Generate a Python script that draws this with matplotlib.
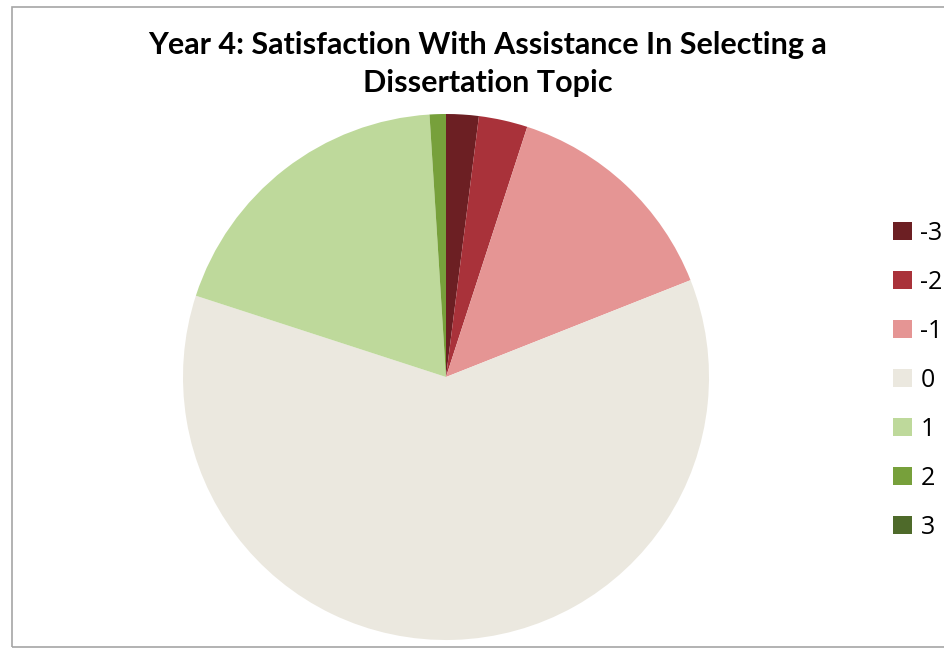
import matplotlib
matplotlib.use("Agg")
import matplotlib.pyplot as plt
from matplotlib.patches import Rectangle

# survey responses, -3 (very dissatisfied) .. 3 (very satisfied)
labels = ["-3", "-2", "-1", "0", "1", "2", "3"]
counts = [2, 3, 14, 61, 19, 1, 0]
colors = ["#6c1f23", "#a9323a", "#e59594", "#ebe8df", "#bed99b", "#77a03b", "#4e6a2a"]

title = "Year 4: Satisfaction With Assistance In Selecting a\nDissertation Topic"

fig = plt.figure(figsize=(9.45, 6.51), dpi=100)
fig.patch.set_facecolor("white")

# chart-area frame
fig.patches.append(Rectangle((12 / 945, 4 / 651), 1.2, 1 - 11 / 651,
                             transform=fig.transFigure, fill=False,
                             edgecolor="#a6a6a6", linewidth=1.2))

ax = fig.add_axes([183 / 945, 11 / 651, 526 / 945, 526 / 651])
wedges, _ = ax.pie(counts, colors=colors, startangle=90, counterclock=False,
                   wedgeprops=dict(linewidth=0))
ax.set_xlim(-1, 1)
ax.set_ylim(-1, 1)
ax.set_aspect("equal")

fig.text(488 / 945, 1 - 64 / 651, title, ha="center", va="center",
         fontsize=22, fontweight="bold", family="Lato", linespacing=1.4)

leg = fig.legend(wedges, labels, loc="upper left",
                 bbox_to_anchor=(893 / 945, 1 - 221 / 651),
                 frameon=False, prop={"family": "Open Sans", "size": 18},
                 handlelength=0.75, handleheight=0.75, handletextpad=0.35,
                 labelspacing=0.96, borderpad=0, borderaxespad=0)

fig.savefig("out.png", dpi=100)
